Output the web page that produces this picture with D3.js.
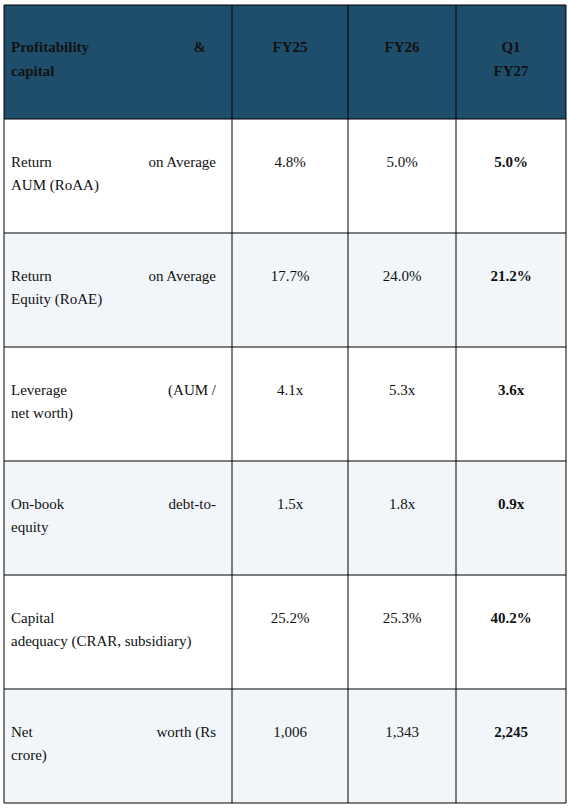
<!DOCTYPE html><html><head><meta charset="utf-8">
<script src="https://cdn.jsdelivr.net/npm/d3@7"></script>
<style>body{margin:0;background:#fff}</style></head><body><svg id="c" width="569" height="810"></svg>
<script>
const headers=["Profitability & capital","FY25","FY26","Q1 FY27"];
const metricsLine1=[["Return","on Average"],["Return","on Average"],["Leverage","(AUM /"],["On-book","debt-to-"],["Capital",""],["Net","worth (Rs"]];
const metricsLine2=["AUM (RoAA)","Equity (RoAE)","net worth)","equity","adequacy (CRAR, subsidiary)","crore)"];
const fy25=["4.8%","17.7%","4.1x","1.5x","25.2%","1,006"];
const fy26=["5.0%","24.0%","5.3x","1.8x","25.3%","1,343"];
const q1fy27=["5.0%","21.2%","3.6x","0.9x","40.2%","2,245"];

const svg=d3.select("#c");
const colEdges=[4,232,348,456,566];
const x=d3.scaleOrdinal().domain([0,1,2,3,4]).range(colEdges);
const rowY=d3.scaleLinear().domain([0,7]).range([5,803]);
const f="'Liberation Serif','Times New Roman',serif";
// header bg
svg.append("rect").attr("x",4).attr("y",rowY(0)).attr("width",562).attr("height",rowY(1)-rowY(0)).attr("fill","#1f4e6d");
metricsLine2.forEach((_,i)=>{
  svg.append("rect").attr("x",4).attr("y",rowY(i+1)).attr("width",562).attr("height",rowY(i+2)-rowY(i+1)).attr("fill",i%2?"#f2f6fa":"#fff");
});
const g=svg.append("g").attr("font-family",f).attr("font-size",15).attr("fill","#111");
// header text
g.append("text").attr("x",11).attr("y",rowY(0)+47).attr("font-weight","bold").text("Profitability");
g.append("text").attr("x",206).attr("y",rowY(0)+47).attr("font-weight","bold").attr("text-anchor","end").text("&");
g.append("text").attr("x",11).attr("y",rowY(0)+71).attr("font-weight","bold").text("capital");
g.append("text").attr("x",(x(1)+x(2))/2).attr("y",rowY(0)+47).attr("font-weight","bold").attr("text-anchor","middle").text(headers[1]);
g.append("text").attr("x",(x(2)+x(3))/2).attr("y",rowY(0)+47).attr("font-weight","bold").attr("text-anchor","middle").text(headers[2]);
const qp=headers[3].split(" ");
g.append("text").attr("x",(x(3)+x(4))/2).attr("y",rowY(0)+47).attr("font-weight","bold").attr("text-anchor","middle").text(qp[0]);
g.append("text").attr("x",(x(3)+x(4))/2).attr("y",rowY(0)+71).attr("font-weight","bold").attr("text-anchor","middle").text(qp[1]);
metricsLine2.forEach((m,i)=>{
  const y0=rowY(i+1);
  g.append("text").attr("x",11).attr("y",y0+48).text(metricsLine1[i][0]);
  g.append("text").attr("x",216).attr("y",y0+48).attr("text-anchor","end").text(metricsLine1[i][1]);
  g.append("text").attr("x",11).attr("y",y0+71).text(m);
  [fy25,fy26,q1fy27].forEach((arr,j)=>{
    g.append("text").attr("x",(x(j+1)+x(j+2))/2).attr("y",y0+48).attr("text-anchor","middle")
      .attr("font-weight",j==2?"bold":null).text(arr[i]);
  });
});
// grid
for(let r=0;r<=7;r++) svg.append("line").attr("x1",4).attr("x2",566).attr("y1",rowY(r)).attr("y2",rowY(r)).attr("stroke","#000");
colEdges.forEach(c=>svg.append("line").attr("x1",c).attr("x2",c).attr("y1",rowY(0)).attr("y2",rowY(7)).attr("stroke","#000"));
</script></body></html>
